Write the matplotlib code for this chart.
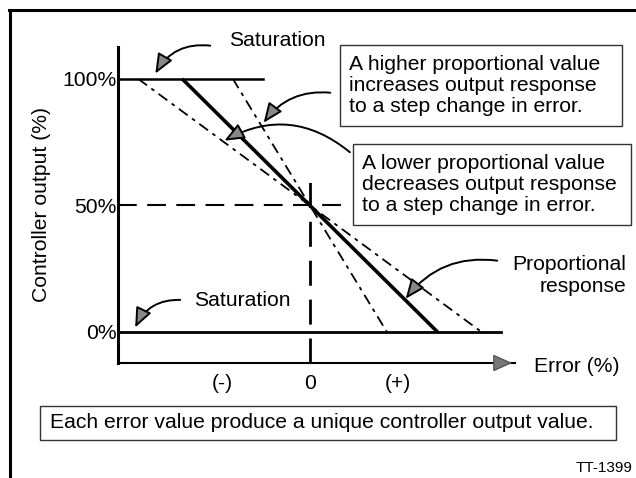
import matplotlib
matplotlib.use("Agg")
import matplotlib.pyplot as plt
from matplotlib.patches import Rectangle, FancyArrowPatch
from matplotlib.lines import Line2D

plt.rcParams["font.family"] = ["Liberation Sans", "DejaVu Sans"]

W, H = 636, 478

# error (arbitrary units) at which each response line reaches 0 % output
gain_names = ["lower gain", "proportional", "higher gain"]
zero_cross = [1.95, 1.45, 0.875]
gain_lw = [1.3, 2.6, 1.3]
gain_dashed = [True, False, True]

sat_high_end = -0.53      # 100 % saturation line stops here
sat_low_end = 2.17        # 0 % saturation line stops here
mid_dash_end = 0.35       # 50 % dashed guide stops here
zero_dash_top = 63        # vertical guide at error 0 starts here (%)

y_ticks = [0, 50, 100]
y_labels = ["0%", "50%", "100%"]
x_ticks = [-1, 0, 1]
x_labels = ["(-)", "0", "(+)"]

FS = 15.2


def px(x, y):
    return (x / W, 1 - y / H)


fig = plt.figure(figsize=(W / 100, H / 100), dpi=100)
ax = fig.add_axes([118 / W, 1 - 363 / H, (515 - 118) / W, (363 - 47) / H])
ax.set_xlim(-2.18, 2.33)
ax.set_ylim(-12.25, 112.6)

for z, lw, dashed in zip(zero_cross, gain_lw, gain_dashed):
    kw = dict(dashes=(6, 3, 2, 3)) if dashed else {}
    ax.plot([-z, z], [100, 0], color="black", lw=lw, solid_capstyle="butt", **kw)

ax.plot([-2.18, sat_high_end], [100, 100], color="black", lw=1.8)
ax.plot([-2.18, sat_low_end], [0, 0], color="black", lw=2)
ax.plot([-2.18, mid_dash_end], [50, 50], color="black", lw=1.5, dashes=(9, 5))
ax.plot([0, 0], [-12.25, zero_dash_top], color="black", lw=2, dashes=(9, 5))

for s in ["top", "right"]:
    ax.spines[s].set_visible(False)
ax.spines["left"].set_linewidth(2.2)
ax.spines["bottom"].set_linewidth(1.5)
ax.annotate("", xy=(1.0, 0), xytext=(0.96, 0), xycoords="axes fraction",
            arrowprops=dict(arrowstyle="-|>,head_length=1.0,head_width=0.45",
                            fc="#777777", ec="#555555", lw=1, mutation_scale=12),
            annotation_clip=False)

ax.set_yticks(y_ticks, y_labels, fontsize=FS)
ax.set_xticks(x_ticks, x_labels, fontsize=FS)
ax.tick_params(axis="y", length=0, pad=1)
ax.tick_params(axis="x", length=0, pad=8)

fig.text(*px(42, 205), "Controller output (%)", rotation=90, fontsize=FS,
         ha="center", va="center")
fig.text(*px(534, 366), "Error (%)", fontsize=FS, ha="left", va="center")

# outer frame
fig.add_artist(Line2D([10 / W, 10 / W], [0, 1 - 10 / H], color="black", lw=2.2))
fig.add_artist(Line2D([9 / W, 1], [1 - 10 / H, 1 - 10 / H], color="black", lw=2.2))

# callout boxes
boxes = [
    (340, 45, 622, 126, 349, "A higher proportional value\nincreases output response\nto a step change in error."),
    (353, 144, 631, 225, 362, "A lower proportional value\ndecreases output response\nto a step change in error."),
    (40, 406, 616, 440, 50, "Each error value produce a unique controller output value."),
]
for x0, y0, x1, y1, tx, txt in boxes:
    fig.add_artist(Rectangle(px(x0, y1), (x1 - x0) / W, (y1 - y0) / H,
                             transform=fig.transFigure, fill=False,
                             ec="#333333", lw=1))
    fig.text(*px(tx, (y0 + y1) / 2), txt, fontsize=FS, ha="left", va="center",
             linespacing=1.15)

fig.text(*px(229, 40), "Saturation", fontsize=FS, ha="left", va="center")
fig.text(*px(194, 300), "Saturation", fontsize=FS, ha="left", va="center")
fig.text(*px(626, 275), "Proportional\nresponse", fontsize=FS, ha="right",
         va="center", linespacing=1.2)
fig.text(*px(633, 468), "TT-1399", fontsize=11, ha="right", va="center")

# hand-drawn style callout arrows (tail -> tip, in pixels)
arrows = [
    ((213, 46), (154, 76), 0.35),
    ((333, 93), (262, 125), 0.3),
    ((352, 154), (222, 142), 0.35),
    ((183, 300), (134, 330), 0.35),
    ((500, 261), (404, 301), 0.3),
]
for tail, tip, rad in arrows:
    fig.add_artist(FancyArrowPatch(px(*tail), px(*tip), transform=fig.transFigure,
                                   connectionstyle=f"arc3,rad={rad}",
                                   arrowstyle="-|>,head_length=1.2,head_width=0.5",
                                   mutation_scale=10, fc="#888888", ec="black",
                                   lw=1.4))

fig.savefig("out.png", dpi=100)
